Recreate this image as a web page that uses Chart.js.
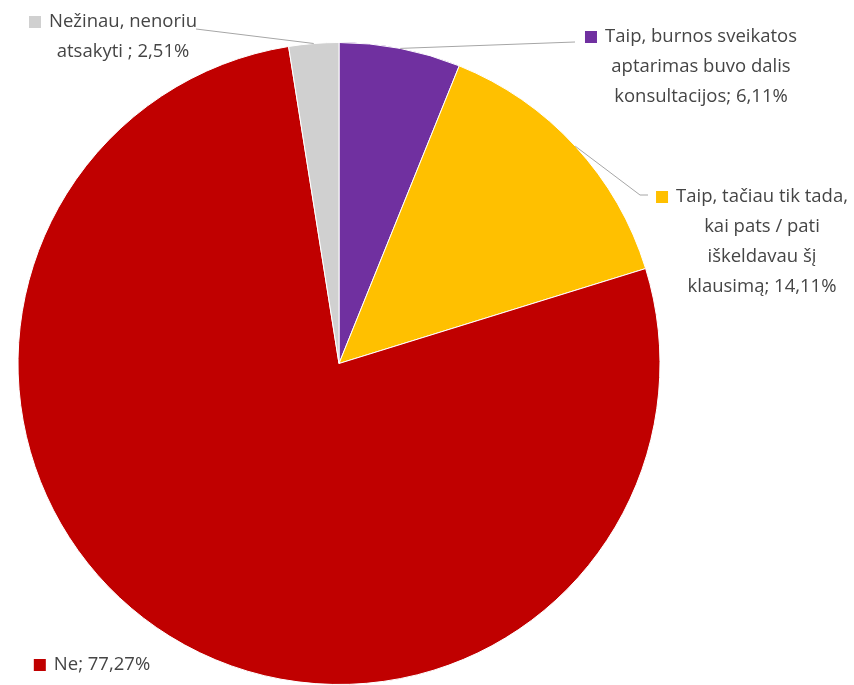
<!DOCTYPE html>
<html lang="lt">
<head>
  <meta charset="UTF-8" />
  <title>Burnos sveikatos aptarimas</title>
  <script src="https://cdn.jsdelivr.net/npm/chart.js"></script>
  <style>
    html, body { margin: 0; padding: 0; background: #fff; }
    #wrap { width: 854px; height: 685px; position: relative; }
  </style>
</head>
<body>
  <div id="wrap"><canvas id="pie"></canvas></div>

  <script>
    // Duomenys (pradedant nuo 12 val., pagal laikrodžio rodyklę)
    const categories = [
      'Taip, burnos sveikatos aptarimas buvo dalis konsultacijos',
      'Taip, tačiau tik tada, kai pats / pati iškeldavau šį klausimą',
      'Ne',
      'Nežinau, nenoriu atsakyti '
    ];
    const shares = [6.11, 14.11, 77.27, 2.51];
    const sliceColors = ['#7030A0', '#FFC000', '#C00000', '#D0D0D0'];

    // Etikečių eilutės (kaip paveiksle)
    const labelLines = [
      ['Taip, burnos sveikatos', 'aptarimas buvo dalis', 'konsultacijos; 6,11%'],
      ['Taip, tačiau tik tada,', 'kai pats / pati', 'iškeldavau šį', 'klausimą; 14,11%'],
      ['Ne; 77,27%'],
      ['Nežinau, nenoriu', 'atsakyti ; 2,51%']
    ];

    // etikečių bloko centras (x), pirmos eilutės y, linijos galas
    const labelPos = [
      { cx: 691, y: 37, end: [575, 42], showLine: true },
      { cx: 752, y: 197, end: [640, 195], tail: [648, 195], showLine: true },
      { cx: 92, y: 665, showLine: false },
      { cx: 113, y: 22, end: [196, 29], showLine: true }
    ];

    const labelPlugin = {
      id: 'pieLabels',
      afterDatasetsDraw(chart) {
        const c = chart.ctx;
        const arcs = chart.getDatasetMeta(0).data;
        c.save();
        c.font = '18.5px "Open Sans", "Noto Sans", sans-serif';
        c.textBaseline = 'middle';
        const lh = 30;
        arcs.forEach((arc, i) => {
          const p = labelPos[i];
          const mid = (arc.startAngle + arc.endAngle) / 2;
          if (p.showLine) {
            const ax = arc.x + Math.cos(mid) * arc.outerRadius;
            const ay = arc.y + Math.sin(mid) * arc.outerRadius;
            c.strokeStyle = '#A6A6A6';
            c.lineWidth = 1;
            c.beginPath();
            c.moveTo(ax, ay);
            c.lineTo(p.end[0], p.end[1]);
            if (p.tail) c.lineTo(p.tail[0], p.tail[1]);
            c.stroke();
          }
          const lines = labelLines[i];
          // first line has the colour marker before it
          const w0 = c.measureText(lines[0]).width;
          const box = 12, gap = 8;
          const total = box + gap + w0;
          const x0 = p.cx - total / 2;
          c.fillStyle = sliceColors[i];
          c.fillRect(x0, p.y - box / 2, box, box);
          c.fillStyle = '#454545';
          c.textAlign = 'left';
          c.fillText(lines[0], x0 + box + gap, p.y);
          c.textAlign = 'center';
          for (let k = 1; k < lines.length; k++) {
            c.fillText(lines[k], p.cx + (box + gap) / 2, p.y + k * lh);
          }
        });
        c.restore();
      }
    };

    new Chart(document.getElementById('pie'), {
      type: 'pie',
      data: {
        labels: categories,
        datasets: [{
          data: shares,
          backgroundColor: sliceColors,
          borderColor: '#ffffff',
          borderWidth: 1
        }]
      },
      options: {
        responsive: true,
        maintainAspectRatio: false,
        animation: false,
        layout: { padding: { left: 16, right: 192, top: 42, bottom: 0 } },
        plugins: {
          legend: { display: false },
          tooltip: { enabled: false }
        }
      },
      plugins: [labelPlugin]
    });
  </script>
</body>
</html>
